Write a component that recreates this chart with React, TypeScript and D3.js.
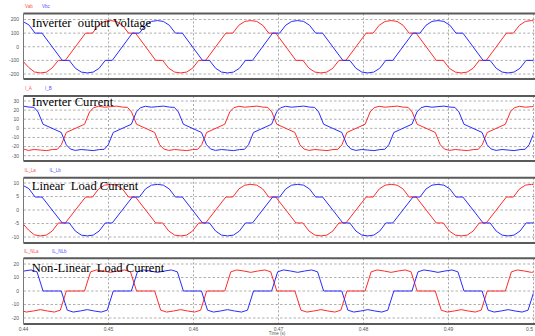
import React from "react";
import * as d3 from "d3";

// time axis (ms)
const timeTicks = [440, 450, 460, 470, 480, 490, 500];
const timeTickLabels = ["0.44", "0.45", "0.46", "0.47", "0.48", "0.49", "0.5"];

const voltTicks = [200, 100, 0, -100, -200];
const invTicks = [30, 20, 10, 0, -10, -20, -30];
const linTicks = [10, 5, 0, -5, -10];
const nlTicks = [20, 10, 0, -10, -20];

// Panel 1 & 3 share time stamps
const tVoltA = [435.85, 436.67,
  439.04, 439.86, 440.58, 441.28, 441.98, 442.68, 443.38, 444.10, 444.92,
  447.30, 448.12, 448.84, 449.54, 450.24, 450.94, 451.64, 452.36, 453.18,
  455.55, 456.37, 457.09, 457.79, 458.49, 459.19, 459.89, 460.61, 461.43,
  463.80, 464.62, 465.34, 466.04, 466.74, 467.44, 468.14, 468.86, 469.68,
  472.05, 472.87, 473.59, 474.29, 474.99, 475.69, 476.39, 477.11, 477.93,
  480.31, 481.13, 481.85, 482.55, 483.25, 483.95, 484.65, 485.37, 486.19,
  488.56, 489.38, 490.10, 490.80, 491.50, 492.20, 492.90, 493.62, 494.44,
  496.81, 497.63, 498.35, 499.05, 499.75, 500.45, 501.15, 501.87, 502.69];
const vab = [100, 100,
  -100, -100, -150, -185, -192, -187, -155, -100, -100,
  100, 100, 158, 186, 192, 186, 158, 100, 100,
  -100, -100, -158, -186, -192, -186, -158, -100, -100,
  100, 100, 158, 186, 192, 186, 158, 100, 100,
  -100, -100, -158, -186, -192, -186, -158, -100, -100,
  100, 100, 158, 186, 192, 186, 158, 100, 100,
  -100, -100, -158, -186, -192, -186, -158, -100, -100,
  100, 100, 158, 186, 192, 186, 158, 100, 100];
const tVoltB = [433.11, 433.93,
  436.30, 437.12, 437.84, 438.54, 439.24, 439.94, 440.64, 441.36, 442.18,
  444.56, 445.38, 446.10, 446.80, 447.50, 448.20, 448.90, 449.62, 450.44,
  452.81, 453.63, 454.35, 455.05, 455.75, 456.45, 457.15, 457.87, 458.69,
  461.06, 461.88, 462.60, 463.30, 464.00, 464.70, 465.40, 466.12, 466.94,
  469.31, 470.13, 470.85, 471.55, 472.25, 472.95, 473.65, 474.37, 475.19,
  477.57, 478.39, 479.11, 479.81, 480.51, 481.21, 481.91, 482.63, 483.45,
  485.82, 486.64, 487.36, 488.06, 488.76, 489.46, 490.16, 490.88, 491.70,
  494.07, 494.89, 495.61, 496.31, 497.01, 497.71, 498.41, 499.13, 499.95,
  502.32, 503.14];
const vbc = [-100, -100,
  100, 100, 158, 186, 192, 185, 160, 100, 100,
  -100, -100, -158, -186, -192, -186, -158, -100, -100,
  100, 100, 158, 186, 192, 186, 158, 100, 100,
  -100, -100, -158, -186, -192, -186, -158, -100, -100,
  100, 100, 158, 186, 192, 186, 158, 100, 100,
  -100, -100, -158, -186, -192, -186, -158, -100, -100,
  100, 100, 158, 186, 192, 186, 158, 100, 100,
  -100, -100, -158, -186, -192, -186, -158, -100, -100,
  100, 100];

const iLLa = [4.8, 4.8,
  -4.8, -4.8, -7.4, -9.2, -9.6, -9.3, -7.8, -4.8, -4.8,
  4.8, 4.8, 7.8, 9.2, 9.5, 9.2, 7.8, 4.8, 4.8,
  -4.8, -4.8, -7.8, -9.3, -9.6, -9.3, -7.8, -4.8, -4.8,
  4.8, 4.8, 7.8, 9.2, 9.5, 9.2, 7.8, 4.8, 4.8,
  -4.8, -4.8, -7.8, -9.3, -9.6, -9.3, -7.8, -4.8, -4.8,
  4.8, 4.8, 7.8, 9.2, 9.5, 9.2, 7.8, 4.8, 4.8,
  -4.8, -4.8, -7.8, -9.3, -9.6, -9.3, -7.8, -4.8, -4.8,
  4.8, 4.8, 7.8, 9.2, 9.5, 9.2, 7.8, 4.8, 4.8];
const iLLb = [-4.8, -4.8,
  4.8, 4.8, 7.8, 9.2, 9.5, 9.1, 7.9, 4.8, 4.8,
  -4.8, -4.8, -7.8, -9.3, -9.6, -9.3, -7.8, -4.8, -4.8,
  4.8, 4.8, 7.8, 9.2, 9.5, 9.2, 7.8, 4.8, 4.8,
  -4.8, -4.8, -7.8, -9.3, -9.6, -9.3, -7.8, -4.8, -4.8,
  4.8, 4.8, 7.8, 9.2, 9.5, 9.2, 7.8, 4.8, 4.8,
  -4.8, -4.8, -7.8, -9.3, -9.6, -9.3, -7.8, -4.8, -4.8,
  4.8, 4.8, 7.8, 9.2, 9.5, 9.2, 7.8, 4.8, 4.8,
  -4.8, -4.8, -7.8, -9.3, -9.6, -9.3, -7.8, -4.8, -4.8,
  4.8, 4.8];

// Panel 2: inverter current
const tInvA = [436.20, 436.79,
  438.92, 439.51, 439.98, 440.57, 441.27, 441.98, 442.69, 443.39, 443.98, 444.45, 445.04,
  447.18, 447.77, 448.24, 448.83, 449.53, 450.24, 450.95, 451.65, 452.24, 452.71, 453.30,
  455.43, 456.02, 456.49, 457.08, 457.78, 458.49, 459.20, 459.90, 460.49, 460.96, 461.55,
  463.68, 464.27, 464.74, 465.33, 466.03, 466.74, 467.45, 468.15, 468.74, 469.21, 469.80,
  471.93, 472.52, 472.99, 473.58, 474.28, 474.99, 475.70, 476.40, 476.99, 477.46, 478.05,
  480.19, 480.78, 481.25, 481.84, 482.54, 483.25, 483.96, 484.66, 485.25, 485.72, 486.31,
  488.44, 489.03, 489.50, 490.09, 490.79, 491.50, 492.21, 492.91, 493.50, 493.97, 494.56,
  496.69, 497.28, 497.75, 498.34, 499.04, 499.75, 500.46, 501.16, 501.75, 502.22, 502.81];
const iA = [18, 4.5,
  -4.5, -18, -22.6, -24.2, -23.2, -23.8, -24.4, -23.3, -23.0, -18, -4.5,
  4.5, 18, 22.6, 24.2, 23.2, 23.8, 24.4, 23.3, 23.0, 18, 4.5,
  -4.5, -18, -22.6, -24.2, -23.2, -23.8, -24.4, -23.3, -23.0, -18, -4.5,
  4.5, 18, 22.6, 24.2, 23.2, 23.8, 24.4, 23.3, 23.0, 18, 4.5,
  -4.5, -18, -22.6, -24.2, -23.2, -23.8, -24.4, -23.3, -23.0, -18, -4.5,
  4.5, 18, 22.6, 24.2, 23.2, 23.8, 24.4, 23.3, 23.0, 18, 4.5,
  -4.5, -18, -22.6, -24.2, -23.2, -23.8, -24.4, -23.3, -23.0, -18, -4.5,
  4.5, 18, 22.6, 24.2, 23.2, 23.8, 24.4, 23.3, 23.0, 18, 4.5];
const tInvB = [433.46, 434.05,
  436.18, 436.77, 437.24, 437.83, 438.53, 439.24, 439.95, 440.65, 441.24, 441.71, 442.30,
  444.44, 445.03, 445.50, 446.09, 446.79, 447.50, 448.21, 448.91, 449.50, 449.97, 450.56,
  452.69, 453.28, 453.75, 454.34, 455.04, 455.75, 456.46, 457.16, 457.75, 458.22, 458.81,
  460.94, 461.53, 462.00, 462.59, 463.29, 464.00, 464.71, 465.41, 466.00, 466.47, 467.06,
  469.19, 469.78, 470.25, 470.84, 471.54, 472.25, 472.96, 473.66, 474.25, 474.72, 475.31,
  477.45, 478.04, 478.51, 479.10, 479.80, 480.51, 481.22, 481.92, 482.51, 482.98, 483.57,
  485.70, 486.29, 486.76, 487.35, 488.05, 488.76, 489.47, 490.17, 490.76, 491.23, 491.82,
  493.95, 494.54, 495.01, 495.60, 496.30, 497.01, 497.72, 498.42, 499.01, 499.48, 500.07,
  502.20, 502.79];
const iB = [-18, -4.5,
  4.5, 18, 22.6, 24.2, 23.2, 23.8, 24.4, 23.3, 23.0, 18, 4.5,
  -4.5, -18, -22.6, -24.2, -23.2, -23.8, -24.4, -23.3, -23.0, -18, -4.5,
  4.5, 18, 22.6, 24.2, 23.2, 23.8, 24.4, 23.3, 23.0, 18, 4.5,
  -4.5, -18, -22.6, -24.2, -23.2, -23.8, -24.4, -23.3, -23.0, -18, -4.5,
  4.5, 18, 22.6, 24.2, 23.2, 23.8, 24.4, 23.3, 23.0, 18, 4.5,
  -4.5, -18, -22.6, -24.2, -23.2, -23.8, -24.4, -23.3, -23.0, -18, -4.5,
  4.5, 18, 22.6, 24.2, 23.2, 23.8, 24.4, 23.3, 23.0, 18, 4.5,
  -4.5, -18, -22.6, -24.2, -23.2, -23.8, -24.4, -23.3, -23.0, -18, -4.5,
  4.5, 18];

// Panel 4: non-linear load current
const tNlA = [436.08, 436.79,
  438.92, 439.63, 440.33, 441.16, 441.98, 442.80, 443.63, 444.33, 445.04,
  447.18, 447.89, 448.59, 449.42, 450.24, 451.06, 451.89, 452.59, 453.30,
  455.43, 456.14, 456.84, 457.67, 458.49, 459.31, 460.14, 460.84, 461.55,
  463.68, 464.39, 465.09, 465.92, 466.74, 467.56, 468.39, 469.09, 469.80,
  471.93, 472.64, 473.34, 474.17, 474.99, 475.81, 476.64, 477.34, 478.05,
  480.19, 480.90, 481.60, 482.43, 483.25, 484.07, 484.90, 485.60, 486.31,
  488.44, 489.15, 489.85, 490.68, 491.50, 492.32, 493.15, 493.85, 494.56,
  496.69, 497.40, 498.10, 498.93, 499.75, 500.57, 501.40, 502.10, 502.81];
const iNLa = [14.2, 0,
  0, -14.2, -15.6, -14.8, -13.8, -14.8, -15.6, -14.2, 0,
  0, 14.2, 15.6, 14.8, 13.8, 14.8, 15.6, 14.2, 0,
  0, -14.2, -15.6, -14.8, -13.8, -14.8, -15.6, -14.2, 0,
  0, 14.2, 15.6, 14.8, 13.8, 14.8, 15.6, 14.2, 0,
  0, -14.2, -15.6, -14.8, -13.8, -14.8, -15.6, -14.2, 0,
  0, 14.2, 15.6, 14.8, 13.8, 14.8, 15.6, 14.2, 0,
  0, -14.2, -15.6, -14.8, -13.8, -14.8, -15.6, -14.2, 0,
  0, 14.2, 15.6, 14.8, 13.8, 14.8, 15.6, 14.2, 0];
const tNlB = [433.34, 434.05,
  436.18, 436.89, 437.59, 438.42, 439.24, 440.06, 440.89, 441.59, 442.30,
  444.44, 445.15, 445.85, 446.68, 447.50, 448.32, 449.15, 449.85, 450.56,
  452.69, 453.40, 454.10, 454.93, 455.75, 456.57, 457.40, 458.10, 458.81,
  460.94, 461.65, 462.35, 463.18, 464.00, 464.82, 465.65, 466.35, 467.06,
  469.19, 469.90, 470.60, 471.43, 472.25, 473.07, 473.90, 474.60, 475.31,
  477.45, 478.16, 478.86, 479.69, 480.51, 481.33, 482.16, 482.86, 483.57,
  485.70, 486.41, 487.11, 487.94, 488.76, 489.58, 490.41, 491.11, 491.82,
  493.95, 494.66, 495.36, 496.19, 497.01, 497.83, 498.66, 499.36, 500.07,
  502.20, 502.91];
const iNLb = [-14.2, 0,
  0, 14.2, 15.6, 14.8, 13.8, 14.8, 15.6, 14.2, 0,
  0, -14.2, -15.6, -14.8, -13.8, -14.8, -15.6, -14.2, 0,
  0, 14.2, 15.6, 14.8, 13.8, 14.8, 15.6, 14.2, 0,
  0, -14.2, -15.6, -14.8, -13.8, -14.8, -15.6, -14.2, 0,
  0, 14.2, 15.6, 14.8, 13.8, 14.8, 15.6, 14.2, 0,
  0, -14.2, -15.6, -14.8, -13.8, -14.8, -15.6, -14.2, 0,
  0, 14.2, 15.6, 14.8, 13.8, 14.8, 15.6, 14.2, 0,
  0, -14.2, -15.6, -14.8, -13.8, -14.8, -15.6, -14.2, 0,
  0, 14.2];

const titles = ["Inverter  output Voltage", "Inverter Current", "Linear  Load Current", "Non-Linear  Load Current"];
const legendNames = [["Vab", "Vbc"], ["I_A", "I_B"], ["IL_La", "IL_Lb"], ["IL_NLa", "IL_NLb"]];

const W = 535, H = 336;
const RED = "#ff2a2a", BLUE = "#2a2aff";

const layout = [
  { ticks: voltTicks, grid: [74, 19.5], frame: [13.5, 79], titleY: 27.3, legY: 8, legX: [25, 42], series: [[tVoltA, vab], [tVoltB, vbc]] },
  { ticks: invTicks, grid: [155.7, 101], frame: [96, 161], titleY: 106, legY: 90, legX: [25, 45], series: [[tInvA, iA], [tInvB, iB]] },
  { ticks: linTicks, grid: [237, 183], frame: [177.7, 243], titleY: 190, legY: 172, legX: [24.5, 49.5], series: [[tVoltA, iLLa], [tVoltB, iLLb]] },
  { ticks: nlTicks, grid: [318, 264], frame: [258.3, 324], titleY: 272, legY: 253, legX: [24, 52], series: [[tNlA, iNLa], [tNlB, iNLb]] },
];

export default function App() {
  const x = d3.scaleLinear().domain([440, 500]).range([23.5, 533.5]);
  const left = 23.5, right = 545;
  return (
    <svg width={W} height={H} style={{ position: "absolute", left: 0, top: 0, background: "#fff" }}>
      <defs>
        {layout.map((p, i) => (
          <clipPath id={`clip${i}`} key={i}>
            <rect x={left} y={p.frame[0]} width={x(500) - left} height={p.frame[1] - p.frame[0]} />
          </clipPath>
        ))}
      </defs>
      {layout.map((p, i) => {
        const tmax = d3.max(p.ticks) as number;
        const tmin = d3.min(p.ticks) as number;
        const y = d3.scaleLinear().domain([tmin, tmax]).range(p.grid);
        const line = d3.line<[number, number]>().x(d => x(d[0])).y(d => y(d[1])).curve(d3.curveLinear);
        return (
          <g key={i}>
            {p.ticks.map(t => (
              <g key={t}>
                <line x1={left} x2={right} y1={y(t)} y2={y(t)} stroke="#a8a8a8" strokeWidth={0.9} strokeDasharray="2.5,2" />
                <text x={19} y={y(t) + 1.8} fontSize={5} textAnchor="end" fill="#555" fontFamily="Liberation Sans, Arial">{t}</text>
              </g>
            ))}
            {timeTicks.map(t => (
              <line key={t} x1={x(t)} x2={x(t)} y1={p.frame[0]} y2={p.frame[1]} stroke="#a8a8a8" strokeWidth={1} strokeDasharray="2,2" />
            ))}
            <g clipPath={`url(#clip${i})`}>
              {p.series.map(([ts, vs], k) => {
                const pts = ts.map((t, j) => [t, vs[j]] as [number, number]);
                return <path key={k} d={line(pts) || ""} fill="none" stroke={k === 0 ? RED : BLUE} strokeWidth={1} />;
              })}
            </g>
            <line x1={left} x2={right} y1={p.frame[0]} y2={p.frame[0]} stroke="#5a5a5a" strokeWidth={2} />
            <line x1={left} x2={right} y1={p.frame[1]} y2={p.frame[1]} stroke="#5a5a5a" strokeWidth={2} />
            <line x1={left} x2={left} y1={p.frame[0]} y2={p.frame[1]} stroke="#777" strokeWidth={1} />
            <text x={31.7} y={p.titleY} fontSize={12.6} fontFamily="Liberation Serif, Times New Roman, serif" fill="#000" style={{ whiteSpace: "pre" }}>{titles[i]}</text>
            <text x={p.legX[0]} y={p.legY} fontSize={4.5} fill="#ff5050" fontFamily="Liberation Sans, Arial">{legendNames[i][0]}</text>
            <text x={p.legX[1]} y={p.legY} fontSize={4.5} fill="#5050ff" fontFamily="Liberation Sans, Arial">{legendNames[i][1]}</text>
          </g>
        );
      })}
      {timeTicks.map((t, i) => (
        <text key={t} x={i === timeTicks.length - 1 ? 533 : x(t)} y={330.5} fontSize={5} textAnchor={i === timeTicks.length - 1 ? "end" : "middle"} fill="#555" fontFamily="Liberation Sans, Arial">{timeTickLabels[i]}</text>
      ))}
      <text x={277} y={335} fontSize={4.5} textAnchor="middle" fill="#555" fontFamily="Liberation Sans, Arial">Time (s)</text>
    </svg>
  );
}
